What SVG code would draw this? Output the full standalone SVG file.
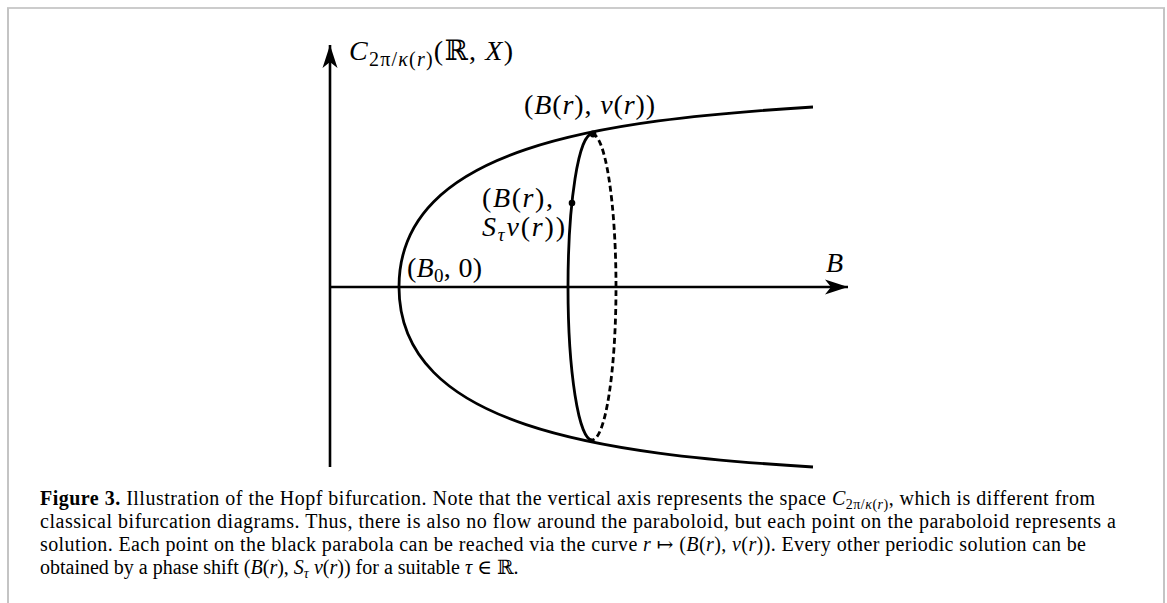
<svg xmlns="http://www.w3.org/2000/svg" width="1167" height="603" viewBox="0 0 1167 603">
<style>
.m{font-family:"Liberation Serif","DejaVu Serif",serif;font-size:28px;fill:#000}
.i{font-style:italic}
.cap{font-family:"Liberation Serif","DejaVu Serif",serif;font-size:20px;fill:#000}
.ax{stroke:#000;stroke-width:2.6;fill:none}
.cv{stroke:#000;stroke-width:2.8;fill:none}
.ds{stroke:#000;stroke-width:2.8;fill:none;stroke-dasharray:6 3.5}
</style>
<defs>
<marker id="arr" markerUnits="userSpaceOnUse" orient="auto" refX="0" refY="0" markerWidth="30" markerHeight="30" viewBox="-26 -10 30 20" overflow="visible">
<path d="M0,0 L-23,-7.5 L-17,0 L-23,7.5 Z" fill="#000"/>
</marker>
</defs>
<rect width="1167" height="603" fill="#fff"/>
<g id="frame">
<line x1="7" y1="8" x2="1165" y2="8" stroke="#9a9a9a" stroke-width="1.2"/>
<line x1="8" y1="8" x2="8" y2="603" stroke="#c4c4c4" stroke-width="2"/>
<line x1="1164" y1="8" x2="1164" y2="603" stroke="#c4c4c4" stroke-width="2"/>
</g>
<g id="connectors">
<line class="ax" x1="330" y1="467" x2="330" y2="45" marker-end="url(#arr)"/>
<line class="ax" x1="330" y1="287" x2="848" y2="287" marker-end="url(#arr)"/>
</g>
<g id="parabola">
<path class="cv" d="M813,107 C600,120 399,147 399,287 C399,427 600,454 813,467"/>
</g>
<g id="orbit">
<path class="cv" d="M592,134 A24,153 0 0 0 592,440"/>
<path class="ds" d="M592,134 A24,153 0 0 1 592,440"/>
<circle cx="593" cy="134" r="3.4" fill="#000"/>
<circle cx="572" cy="203" r="3.3" fill="#000"/>
</g>
<g id="labels">
<text class="m" x="349" y="60" textLength="164"><tspan class="i">C</tspan><tspan font-size="20" dy="6">2π/<tspan class="i">κ</tspan>(<tspan class="i">r</tspan>)</tspan><tspan dy="-6">(ℝ, </tspan><tspan class="i">X</tspan>)</text>
<text class="m" x="524" y="114" textLength="131">(<tspan class="i">B</tspan>(<tspan class="i">r</tspan>), <tspan class="i">v</tspan>(<tspan class="i">r</tspan>))</text>
<text class="m" x="482" y="207" textLength="71">(<tspan class="i">B</tspan>(<tspan class="i">r</tspan>),</text>
<text class="m" x="482" y="236" textLength="83"><tspan class="i">S</tspan><tspan class="i" font-size="19" dy="5">τ</tspan><tspan class="i" dy="-5">v</tspan>(<tspan class="i">r</tspan>))</text>
<text class="m" x="407" y="277" textLength="75">(<tspan class="i">B</tspan><tspan font-size="19" dy="5">0</tspan><tspan dy="-5">, 0)</tspan></text>
<text class="m i" x="826" y="272">B</text>
</g>
<g id="caption">
<text class="cap" x="40" y="505" textLength="1055"><tspan font-weight="bold">Figure 3.</tspan> Illustration of the Hopf bifurcation. Note that the vertical axis represents the space <tspan font-style="italic">C</tspan><tspan font-size="14" dy="4">2π/<tspan font-style="italic">κ</tspan>(<tspan font-style="italic">r</tspan>)</tspan><tspan dy="-4">, which is different from</tspan></text>
<text class="cap" x="40" y="528" textLength="1076">classical bifurcation diagrams. Thus, there is also no flow around the paraboloid, but each point on the paraboloid represents a</text>
<text class="cap" x="40" y="551" textLength="1046">solution. Each point on the black parabola can be reached via the curve <tspan font-style="italic">r</tspan> ↦ (<tspan font-style="italic">B</tspan>(<tspan font-style="italic">r</tspan>), <tspan font-style="italic">v</tspan>(<tspan font-style="italic">r</tspan>)). Every other periodic solution can be</text>
<text class="cap" x="40" y="574">obtained by a phase shift (<tspan font-style="italic">B</tspan>(<tspan font-style="italic">r</tspan>), <tspan font-style="italic">S</tspan><tspan font-style="italic" font-size="14" dy="4">τ</tspan><tspan dy="-4"> </tspan><tspan font-style="italic">v</tspan>(<tspan font-style="italic">r</tspan>)) for a suitable <tspan font-style="italic">τ</tspan> ∈ ℝ.</text>
</g>
</svg>
